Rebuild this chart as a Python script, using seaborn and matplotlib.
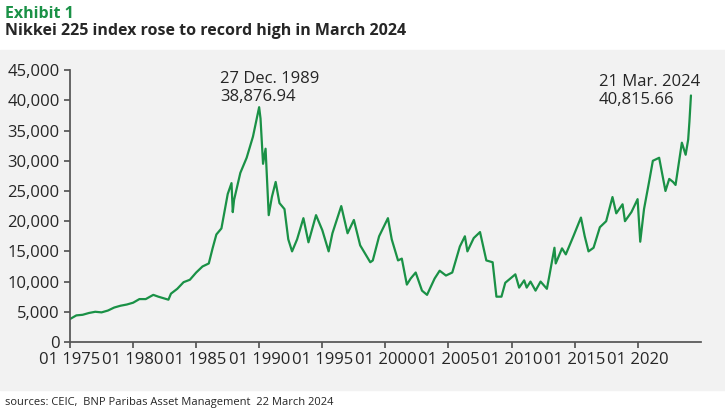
import numpy as np
import pandas as pd
import matplotlib
matplotlib.use("Agg")
import matplotlib.pyplot as plt
import seaborn as sns
from matplotlib.patches import Rectangle
from matplotlib.ticker import FuncFormatter

# --- datos (aproximados) ---
years = [1975.0, 1975.5, 1976.0, 1976.5, 1977.0, 1977.5, 1978.0, 1978.5, 1979.0, 1979.5,
         1980.0, 1980.5, 1981.0, 1981.6, 1982.0, 1982.8, 1983.0, 1983.5, 1984.0, 1984.5,
         1985.0, 1985.5, 1986.0, 1986.3, 1986.6, 1987.0, 1987.5, 1987.8, 1987.9, 1988.0,
         1988.5, 1989.0, 1989.5, 1989.99, 1990.1, 1990.3, 1990.5, 1990.75, 1991.0, 1991.3,
         1991.6, 1992.0, 1992.3, 1992.6, 1993.0, 1993.5, 1993.9, 1994.5, 1995.0, 1995.5,
         1995.8, 1996.5, 1997.0, 1997.5, 1998.0, 1998.8, 1999.0, 1999.5, 2000.2, 2000.5,
         2001.0, 2001.3, 2001.7, 2002.0, 2002.4, 2002.9, 2003.3, 2003.9, 2004.3, 2004.8,
         2005.3, 2005.9, 2006.3, 2006.5, 2007.0, 2007.5, 2008.0, 2008.5, 2008.8, 2009.2,
         2009.5, 2009.9, 2010.3, 2010.6, 2011.0, 2011.2, 2011.5, 2011.9, 2012.3, 2012.8,
         2013.0, 2013.4, 2013.5, 2014.0, 2014.3, 2014.9, 2015.5, 2015.8, 2016.1, 2016.5,
         2017.0, 2017.5, 2018.0, 2018.3, 2018.8, 2018.99, 2019.5, 2019.99, 2020.2, 2020.5,
         2020.9, 2021.2, 2021.7, 2022.2, 2022.5, 2022.8, 2023.0, 2023.5, 2023.8, 2024.0,
         2024.1, 2024.22]
nikkei = [3800, 4400, 4500, 4800, 5000, 4900, 5200, 5700, 6000, 6200,
          6500, 7100, 7100, 7800, 7500, 7000, 8000, 8800, 9900, 10300,
          11500, 12500, 13000, 15500, 17800, 18800, 24500, 26300, 21500, 23500,
          28000, 30500, 34000, 38877, 37000, 29500, 32000, 21000, 24000, 26500,
          23000, 22000, 17000, 15000, 17000, 20500, 16500, 21000, 18500, 15000,
          18000, 22500, 18000, 20200, 16000, 13200, 13500, 17500, 20500, 17000,
          13500, 13800, 9500, 10500, 11500, 8500, 7800, 10500, 11800, 11000,
          11500, 15800, 17500, 15000, 17200, 18200, 13500, 13200, 7500, 7500,
          9800, 10500, 11200, 9000, 10200, 9000, 10000, 8500, 10000, 8800,
          11000, 15600, 13000, 15500, 14500, 17500, 20600, 17500, 15000, 15600,
          19000, 20000, 24000, 21300, 22800, 20000, 21500, 23650, 16600, 22000,
          26500, 30000, 30500, 25000, 27000, 26500, 26000, 33000, 31000, 33500,
          36500, 40816]

df = pd.DataFrame({"year": years, "nikkei": nikkei})
xticks = list(range(1975, 2025, 5))
xlabels = [f"01 {y}" for y in xticks]

sns.set_theme(style="white")
plt.rcParams['font.family'] = ['Open Sans', 'DejaVu Sans']

fig = plt.figure(figsize=(7.25, 4.13), dpi=100)
fig.patches.append(Rectangle((0, 1 - 390 / 413), 1, (390 - 50) / 413,
                             transform=fig.transFigure, color="#f2f2f2", zorder=-1))

ax = fig.add_axes([0.0966, 0.172, 0.87, 0.658])
ax.set_facecolor("none")
sns.lineplot(data=df, x="year", y="nikkei", ax=ax, color="#1a9146", linewidth=1.6)

ax.set_xlim(1975, 2025)
ax.set_ylim(0, 45000)
ax.set_yticks(range(0, 45001, 5000))
ax.yaxis.set_major_formatter(FuncFormatter(lambda v, p: f"{int(v):,}"))
ax.set_xticks(xticks)
ax.set_xticklabels(xlabels)
ax.tick_params(axis="both", labelsize=12, length=4, direction="out", color="#555555",
               bottom=True, left=True)
for s in ["top", "right"]:
    ax.spines[s].set_visible(False)
for s in ["left", "bottom"]:
    ax.spines[s].set_color("#555555")
ax.set_xlabel("")
ax.set_ylabel("")

ax.text(1986.9, 39200, "27 Dec. 1989\n38,876.94", fontsize=12, va="bottom", linespacing=1.2)
ax.text(2016.9, 38700, "21 Mar. 2024\n40,815.66", fontsize=12, va="bottom", linespacing=1.2)

fig.text(0.007, 0.965, "Exhibit 1", color="#1a9146", fontsize=11.5, fontweight="bold", va="center")
fig.text(0.007, 0.925, "Nikkei 225 index rose to record high in March 2024", fontsize=11.5,
         fontweight="bold", va="center")
fig.text(0.007, 0.025, "sources: CEIC,  BNP Paribas Asset Management  22 March 2024",
         fontsize=8, va="center")

fig.savefig("out.png", dpi=100)
